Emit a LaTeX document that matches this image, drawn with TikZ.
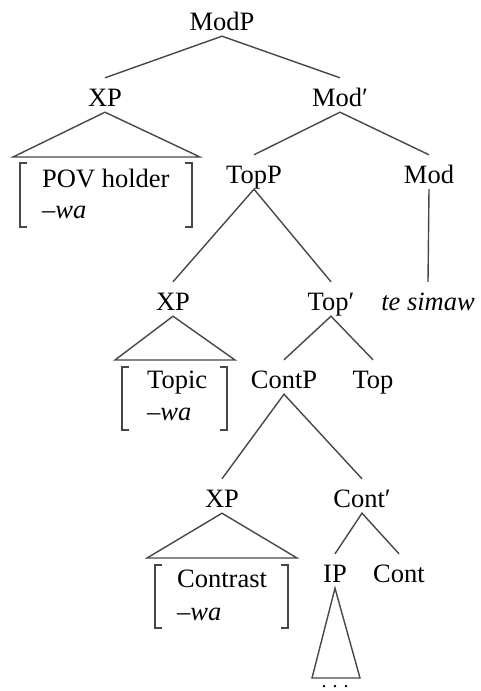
\documentclass[tikz,border=0pt]{standalone}
\usepackage{fontspec}
\setmainfont{Liberation Serif}
\begin{document}
\begin{tikzpicture}[x=1pt,y=-1pt,
  lab/.style={inner sep=0pt,text height=28pt,text depth=6pt,anchor=base,font=\fontsize{26.5}{30}\selectfont},
  txt/.style={inner sep=0pt,anchor=base west,font=\fontsize{26.5}{30}\selectfont},
  edge/.style={line width=1.4pt,black!72},
  brk/.style={line width=1.4pt,black!72}]
\useasboundingbox (0,0) rectangle (480,691);
% nodes
\node[lab] (modp) at (222,30) {ModP};
\node[lab] (xpa) at (105,106) {XP};
\node[lab] (modbar) at (340,106) {Mod′};
\node[lab] (topp) at (254,183) {TopP};
\node[lab] (mod) at (429,183) {Mod};
\node[lab] (xpb) at (173,310) {XP};
\node[lab] (topbar) at (331,310) {Top′};
\node[lab] (tesimaw) at (428,310) {\textit{te simaw}};
\node[lab] (contp) at (284,388) {ContP};
\node[lab] (top) at (373,388) {Top};
\node[lab] (xpc) at (222,507) {XP};
\node[lab] (contbar) at (362,507) {Cont′};
\node[lab] (ip) at (335,582) {IP};
\node[lab] (cont) at (399,582) {Cont};
% bracket texts
\node[txt] (pov) at (42,187) {POV holder};
\node[txt] (wa1) at (42,218) {\textit{–wa}};
\node[txt] (topic) at (147,388) {Topic};
\node[txt] (wa2) at (147,420) {\textit{–wa}};
\node[txt] (contrast) at (177,587) {Contrast};
\node[txt] (wa3) at (177,620) {\textit{–wa}};
\node[inner sep=0pt,anchor=base,font=\fontsize{20}{24}\selectfont] (dots) at (335,687) {.\hspace{6pt}.\hspace{6pt}.};
% triangle base corners
\coordinate (ta1) at (13,157);  \coordinate (ta2) at (200,157);
\coordinate (tb1) at (115,360); \coordinate (tb2) at (235,360);
\coordinate (tc1) at (147,558); \coordinate (tc2) at (297,558);
\coordinate (td1) at (312,678); \coordinate (td2) at (360,678);
% edges
\draw[edge] (xpa.north) -- (modp.south) -- (modbar.north);
\draw[edge] (topp.north) -- (modbar.south) -- (mod.north);
\draw[edge] (mod.south) -- (tesimaw.north);
\draw[edge] (xpb.north) -- (topp.south) -- (topbar.north);
\draw[edge] (contp.north) -- (topbar.south) -- (top.north);
\draw[edge] (xpc.north) -- (contp.south) -- (contbar.north);
\draw[edge] (ip.north) -- (contbar.south) -- (cont.north);
% triangles
\draw[edge] (ta1) -- (xpa.south) -- (ta2) -- cycle;
\draw[edge] (tb1) -- (xpb.south) -- (tb2) -- cycle;
\draw[edge] (tc1) -- (xpc.south) -- (tc2) -- cycle;
\draw[edge] (td1) -- (ip.south) -- (td2) -- cycle;
% brackets
\draw[brk] (27,163) -- (20,163) -- (20,227) -- (27,227);
\draw[brk] (185,163) -- (192,163) -- (192,227) -- (185,227);
\draw[brk] (129,367) -- (122,367) -- (122,430) -- (129,430);
\draw[brk] (220,367) -- (227,367) -- (227,430) -- (220,430);
\draw[brk] (162,565) -- (155,565) -- (155,628) -- (162,628);
\draw[brk] (281,565) -- (288,565) -- (288,628) -- (281,628);
\end{tikzpicture}
\end{document}
